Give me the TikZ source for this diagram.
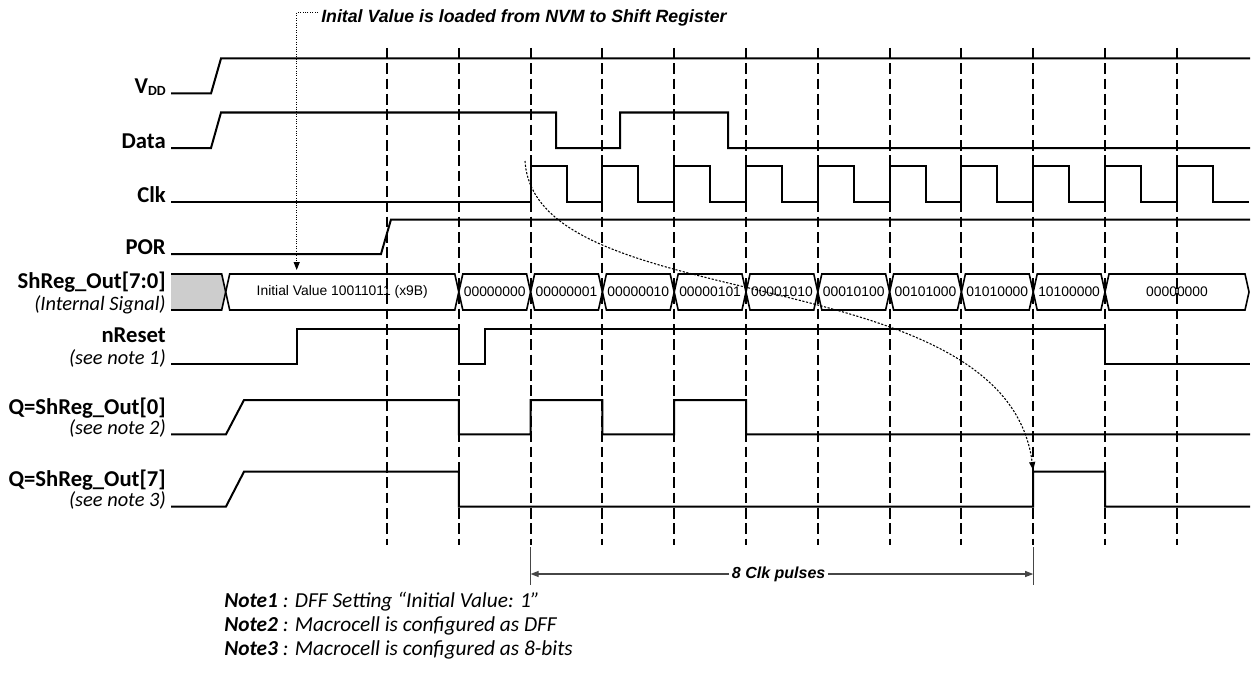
\documentclass[tikz,border=0pt]{standalone}
\usepackage{fontspec}
\setmainfont{Carlito}
\newfontfamily\arialfont{Liberation Sans}
\usepackage{tikz}
\usetikzlibrary{arrows.meta,positioning,calc}
\usepackage{xcolor}
\definecolor{shadegray}{RGB}{205,205,205}
\definecolor{dimgray}{RGB}{70,70,70}
\tikzset{
  sig/.style      = {line width=1.5pt,line join=miter},
  bus/.style      = {line width=1.2pt},
  gridline/.style = {line width=1.5pt,dash pattern=on 8pt off 3.5pt},
  lab/.style      = {anchor=base east,inner sep=0pt,
                     font=\fontsize{17}{19}\selectfont\bfseries},
  sub/.style      = {anchor=base east,inner sep=0pt,
                     font=\fontsize{15.3}{17}\selectfont\itshape},
  val/.style      = {inner sep=0pt,font=\arialfont\fontsize{10.4}{12}\selectfont},
  note/.style     = {anchor=base west,inner sep=0pt,
                     font=\fontsize{16}{18}\selectfont\itshape},
  hint/.style     = {inner sep=0pt,
                     font=\arialfont\fontsize{13.3}{15}\selectfont\bfseries\itshape},
  dotarrow/.style = {densely dotted,line width=0.8pt,
                     -{Triangle[length=6pt,width=4.5pt]}},
  dimarrow/.style = {draw=dimgray,line width=0.8pt,
                     -{Triangle[length=6pt,width=4.5pt]}},
}

\begin{document}
\begin{tikzpicture}[x=0.75pt,y=-0.75pt]
  \useasboundingbox (0,0) rectangle (1253,674);
  \foreach \k in {0,...,11}
    \draw[gridline] ({387+71.8*\k},48) -- ({387+71.8*\k},545);

  \node[lab] (vdd)  at (166,93.5) {V\raisebox{-1.5pt}{\fontsize{10.5}{10}\selectfont DD}};
  \node[lab] (data) at (166,148)  {Data};
  \node[lab] (clk)  at (166,202)  {Clk};
  \node[lab] (por)  at (166,254)  {POR};
  \node[lab] (reg)  at (166,288)  {ShReg\_Out[7:0]};
  \node[sub] (regs) at (166,310.5) {(Internal Signal)};
  \node[lab] (nrst) at (166,342)  {nReset};
  \node[sub] (nrsts) at (166,364) {(see note 1)};
  \node[lab] (qa)   at (166,414)  {Q=ShReg\_Out[0]};
  \node[sub] (qas)  at (166,434.3) {(see note 2)};
  \node[lab] (qb)   at (166,486)  {Q=ShReg\_Out[7]};
  \node[sub] (qbs)  at (166,506.5) {(see note 3)};

  \draw[sig] (171,93.5) -- (211,93.5) -- (221,58.5) -- (1250,58.5);
  \draw[sig] (171,148) -- (211,148) -- (221,112.5) -- (556,112.5) -- (556,148)
             -- (620,148) -- (620,112.5) -- (728,112.5) -- (728,148) -- (1250,148);
  \draw[sig] (171,202) -- (530.6,202)
    \foreach \k in {2,...,11} {
      -- ({387+71.8*\k},166) -- ({423+71.8*\k},166)
      -- ({423+71.8*\k},202) -- ({458.8+71.8*\k},202) };
  \draw[sig] (171,254) -- (381,254) -- (391,219.5) -- (1250,219.5);

  \fill[shadegray] (171,274) -- (221.7,274) -- (225.7,292) -- (221.7,310) -- (171,310) -- cycle;
  \draw[bus] (171,274) -- (221.7,274) -- (225.7,292) -- (221.7,310) -- (171,310);
  \foreach \a/\b/\val [count=\i] in {225.7/458.8/{Initial Value 10011011 (x9B)},
      458.8/530.6/00000000, 530.6/602.4/00000001, 602.4/674.2/00000010,
      674.2/746/00000101, 746/817.8/00001010, 817.8/889.6/00010100,
      889.6/961.4/00101000, 961.4/1033.2/01010000, 1033.2/1105/10100000,
      1105/1249/00000000} {
    \draw[bus] (\a,292) -- (\a+4,274) -- (\b-4,274) -- (\b,292)
               -- (\b-4,310) -- (\a+4,310) -- cycle;
    \node[val] (word\i) at ({(\a+\b)/2},292) {\val};
  }

  \draw[sig] (171,364) -- (297,364) -- (297,328.5) -- (458.8,328.5) -- (458.8,364)
             -- (485,364) -- (485,328.5) -- (1105,328.5) -- (1105,364) -- (1250,364);
  \draw[sig] (171,434.3) -- (226,434.3) -- (244,400) -- (458.8,400) -- (458.8,434.3)
             -- (530.6,434.3) -- (530.6,400) -- (602.4,400) -- (602.4,434.3)
             -- (674.2,434.3) -- (674.2,400) -- (746,400) -- (746,434.3) -- (1250,434.3);
  \draw[sig] (171,506.5) -- (226,506.5) -- (244,471.7) -- (458.8,471.7) -- (458.8,506.5)
             -- (1033.2,506.5) -- (1033.2,471.7) -- (1105,471.7) -- (1105,506.5)
             -- (1250,506.5);

  \node[hint,anchor=base west] (load) at (321,22.7)
       {Inital Value is loaded from NVM to Shift Register};
  \coordinate (loadfrom) at (318,12.7);
  \coordinate (loadto) at (296.7,270);
  \draw[dotarrow] (loadfrom) -| (loadto);

  \coordinate (clkedge) at (525,161);
  \coordinate (q7edge) at (1033.2,470);
  \draw[dotarrow,dash pattern=on 1.6pt off 1.2pt] (clkedge)
       .. controls (535,320) and (1005,255) .. (q7edge);

  \draw[dimgray,line width=0.8pt] (530.6,547) -- (530.6,585);
  \draw[dimgray,line width=0.8pt] (1033.2,547) -- (1033.2,585);
  \coordinate (dimL) at (530.6,574);
  \coordinate (dimR) at (1033.2,574);
  \node[hint,anchor=west,inner sep=2pt,font=\arialfont\fontsize{12}{14}\selectfont\bfseries\itshape]
       (pulses) at (729,574) {8 Clk pulses};
  \draw[dimarrow] (pulses) -- (dimL);
  \draw[dimarrow] (pulses) -- (dimR);

  \node[note] (note1) at (224,607) {\textbf{Note1} : DFF Setting “Initial Value: 1”};
  \node[note] (note2) at (224,631) {\textbf{Note2} : Macrocell is configured as DFF};
  \node[note] (note3) at (224,655) {\textbf{Note3} : Macrocell is configured as 8-bits};
\end{tikzpicture}
\end{document}
